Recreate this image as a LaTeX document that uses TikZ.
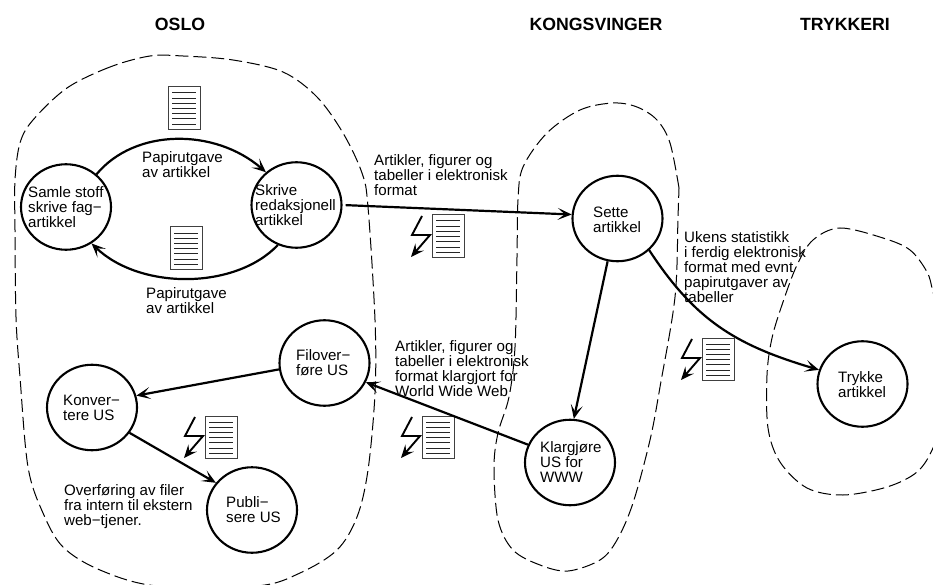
\documentclass[tikz,border=0pt]{standalone}
\usepackage{fontspec}
\setmainfont{Liberation Sans}
\usetikzlibrary{shapes.geometric,arrows.meta}
\tikzset{
  proc/.style={draw,ellipse,line width=2.1pt,minimum width=90pt,minimum height=85.5pt,inner sep=0pt},
  txt/.style={anchor=west,align=left,inner sep=0pt,font=\fontsize{15.1}{15}\selectfont},
  title/.style={inner sep=0pt,font=\fontsize{17.7}{15}\selectfont\bfseries},
  flow/.style={line width=2.2pt,-{Stealth[length=14pt,width=12pt,inset=7pt]}},
  region/.style={line width=1pt,dash pattern=on 13pt off 5pt},
  docicon/.pic={
    \draw[line width=1pt,draw=black!75] (0,0) rectangle (32,42.5);
    \foreach \ly in {6,11.2,16.4,21.6,26.8,32,37.2}
      \draw[line width=1pt,draw=black!85] (4,\ly) -- (28,\ly);
  },
  bolt/.pic={
    \draw[line width=1.9pt,-{Stealth[length=13pt,width=11pt,inset=5pt]}] (-10,1) -- (-20,20) -- (-2,20) -- (-21,42);
  },
}
\begin{document}
\begin{tikzpicture}[x=1pt,y=-1pt]
\useasboundingbox (0,0) rectangle (933,585);
\begin{scope}
\clip (0,0) rectangle (933,585);
% Oslo
\draw[region] plot[smooth cycle,tension=0.55] coordinates {
 (150,56)(110,67)(67,88)(33,120)(20,143)(15,180)(15,230)(16,317)(20,377)(28,467)(43,513)(63,547)(100,570)(157,586)(257,586)(300,573)(337,550)(357,517)(368,470)(375,393)(375,320)(368,207)(362,173)(343,133)(317,97)(283,72)(233,60)(183,56)};
% Kongsvinger
\draw[region] plot[smooth,tension=0.55] coordinates {
 (679,188)(670,143)(657,120)(637,107)(613,103)(580,110)(547,133)(523,167)(518,200)(517,257)(515,347)(509,397)(498,433)(494,467)(498,520)(513,550)(540,565)(568,571)(600,560)(617,540)(633,503)(650,440)(660,387)(675,297)(678,217)(679,188)};
% Trykkeri
\draw[region] plot[smooth,tension=0.55] coordinates {
 (945,340)(933,292)(927,272)(910,250)(883,238)(840,228)(813,240)(797,265)(783,302)(772,338)(767,375)(768,428)(780,462)(807,488)(843,495)(887,487)(917,472)(933,448)(945,410)};
\end{scope}

\node[title] (tosl) at (180,24) {OSLO};
\node[title] (tkon) at (596,24) {KONGSVINGER};
\node[title] (ttry) at (845,24) {TRYKKERI};

\node[proc] (samle) at (66,207) {};
\node[proc] (skrive) at (296.5,205) {};
\node[proc] (filover) at (324.5,363) {};
\node[proc] (konv) at (92,407.5) {};
\node[proc] (publi) at (252,510) {};
\node[proc] (sette) at (617.5,218.5) {};
\node[proc] (trykke) at (862.5,384) {};
\node[proc] (klarg) at (570,462.5) {};

\node[txt] (tsamle) at (28,207) {Samle stoff\\skrive fag−\\artikkel};
\node[txt] (tskrive) at (255,205.5) {Skrive\\redaksjonell\\artikkel};
\node[txt] (tfil) at (296,362.5) {Filover−\\føre US};
\node[txt] (tkonv) at (63,407.5) {Konver−\\tere US};
\node[txt] (tpubl) at (226,509.5) {Publi−\\sere US};
\node[txt] (tsette) at (593,219.5) {Sette\\artikkel};
\node[txt] (ttryk) at (838,384.5) {Trykke\\artikkel};
\node[txt] (tklar) at (540,462) {Klargjøre\\US for\\WWW};

\node[txt] (p1) at (142,164.5) {Papirutgave\\av artikkel};
\node[txt] (p2) at (146,300.5) {Papirutgave\\av artikkel};
\node[txt] (a1) at (374,175) {Artikler, figurer og\\tabeller i elektronisk\\format};
\node[txt] (a2) at (395,369) {Artikler, figurer og\\tabeller i elektronisk\\format klargjort for\\World Wide Web};
\node[txt] (uk) at (684,267.5) {Ukens statistikk\\i ferdig elektronisk\\format med evnt\\papirutgaver av\\tabeller};
\node[txt] (ov) at (64,506.5) {Overføring av filer\\fra intern til ekstern\\web−tjener.};

\pic at (168,87) {docicon};
\pic at (170,227) {docicon};
\pic at (205,416) {docicon};
\pic at (205,416) {bolt};
\pic at (422,416) {docicon};
\pic at (422,416) {bolt};
\pic at (702,338) {docicon};
\pic at (702,338) {bolt};
\pic at (432,215) {docicon};
\pic at (432,215) {bolt};

\draw[flow] (samle.47) .. controls (135,128) and (215,128) .. (skrive.133);
\draw[flow] (skrive.245) .. controls (235,290) and (140,290) .. (samle.-55);
\draw[flow,shorten <=3pt] (skrive.0) -- (sette.175);
\draw[flow] (sette.-103) -- (klarg.85);
\draw[flow] (klarg.157) -- (filover.-25);
\draw[flow] (filover.188) -- (konv.15);
\draw[flow] (konv.-34) -- (publi.143);
\draw[flow] (sette.-45) .. controls (695,320) and (735,345) .. (trykke.162);
\end{tikzpicture}
\end{document}
